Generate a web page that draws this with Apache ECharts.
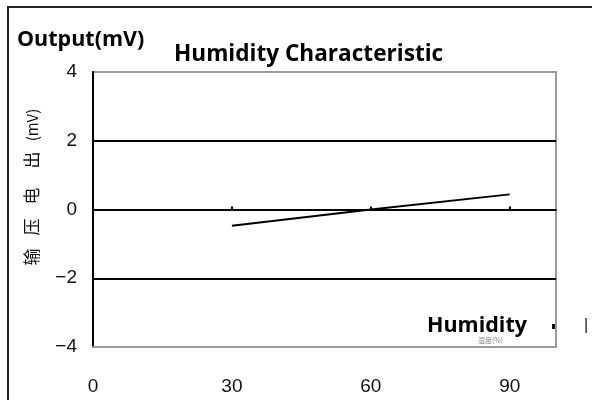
<!DOCTYPE html>
<html>
<head>
<meta charset="utf-8">
<script src="https://cdn.jsdelivr.net/npm/echarts@6/dist/echarts.min.js"></script>
<style>html,body{margin:0;padding:0;background:#fff}#c{width:592px;height:400px}</style>
</head>
<body>
<div id="c"></div>
<script>
const humidity = [30, 60, 90];
const outputMv = [-0.47, 0.0, 0.44];
const xTicks = [0, 30, 60, 90];
const yTicks = [-4, -2, 0, 2, 4];
const titleText = 'Humidity Characteristic';
const yUnitText = 'Output(mV)';
const xNameText = 'Humidity';
const yNameParts = ['(mV)', '出', '电', '压', '输'];

const chart = echarts.init(document.getElementById('c'), null, {renderer: 'canvas'});
const tickFont = {fontFamily: 'Liberation Sans', fontSize: 19, color: '#111'};
const boldFont = {fontFamily: 'Open Sans', fontWeight: 'bold', fontSize: 21.5, fill: '#000', verticalAlign: 'middle'};
const nameYs = [125, 160, 196, 227, 257];

chart.setOption({
  animation: false,
  grid: {left: 93, top: 72, right: 36, bottom: 53, show: true, borderColor: '#9a9a9a', borderWidth: 2, backgroundColor: '#fff'},
  xAxis: [{
    type: 'value', position: 'bottom', min: xTicks[0], max: 100, interval: 30,
    axisLine: {show: true, onZero: false, lineStyle: {color: '#9a9a9a', width: 2}},
    axisTick: {show: false},
    splitLine: {show: false},
    axisLabel: Object.assign({margin: 30, customValues: xTicks}, tickFont)
  }, {
    type: 'value', position: 'top', min: xTicks[0], max: 100, interval: 30,
    axisLine: {show: true, onZero: true, lineStyle: {color: '#000', width: 2}},
    axisTick: {show: true, inside: false, length: 3, customValues: xTicks.slice(1), lineStyle: {color: '#000', width: 2}},
    splitLine: {show: false},
    axisLabel: {show: false}
  }],
  yAxis: {
    type: 'value', min: yTicks[0], max: yTicks[yTicks.length - 1], interval: 2,
    axisLine: {show: true, lineStyle: {color: '#000', width: 2}},
    axisTick: {show: false},
    splitLine: {show: true, showMinLine: false, showMaxLine: false, lineStyle: {color: '#000', width: 2}},
    axisLabel: Object.assign({margin: 16, formatter: v => v < 0 ? '\u2212' + Math.abs(v) : String(v)}, tickFont)
  },
  series: [{
    type: 'line', xAxisIndex: 0,
    data: humidity.map((h, i) => [h, outputMv[i]]),
    symbol: 'none',
    lineStyle: {color: '#000', width: 2}
  }],
  graphic: [
    {type: 'rect', shape: {x: 8, y: 7, width: 640, height: 440}, style: {fill: 'none', stroke: '#222', lineWidth: 2}, z: 10},
    {type: 'text', x: 17, y: 40, style: Object.assign({text: yUnitText}, boldFont), z: 10},
    {type: 'text', x: 174, y: 55, style: Object.assign({text: titleText}, boldFont, {fontSize: 22.6}), z: 10},
    {type: 'text', x: 427, y: 326, style: Object.assign({text: xNameText}, boldFont), z: 10},
    {type: 'text', left: 478, top: 337, style: {text: '湿度(%)', fontSize: 7, fill: '#888', fontFamily: 'Noto Sans CJK SC'}, z: 9},
    {type: 'rect', shape: {x: 552, y: 324, width: 3, height: 5}, style: {fill: '#111'}, z: 10},
    {type: 'text', left: 584, top: 318, style: {text: '|', fontSize: 16, fill: '#111', fontFamily: 'Liberation Sans'}, z: 10}
  ].concat(yNameParts.map((t, i) => ({
    type: 'text', x: 32, y: nameYs[i], rotation: Math.PI / 2,
    style: {text: t, fontSize: i === 0 ? 15 : 17, fill: '#111', fontFamily: 'Noto Sans CJK SC', align: 'center', verticalAlign: 'middle'}, z: 10
  })))
});
</script>
</body>
</html>
